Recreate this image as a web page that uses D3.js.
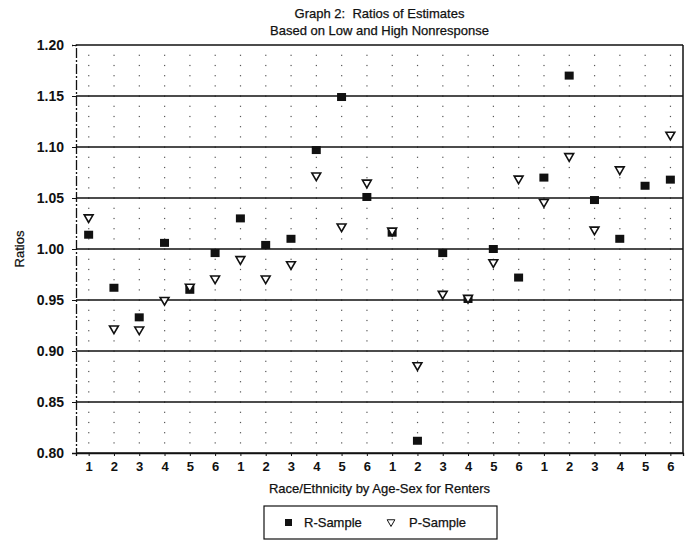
<!DOCTYPE html>
<html>
<head>
<meta charset="utf-8">
<script src="https://cdn.jsdelivr.net/npm/d3@7"></script>
<style>
  body { margin: 0; background: #fff; }
  text { font-family: "Liberation Sans", Arial, sans-serif; fill: #111; white-space: pre; }
</style>
</head>
<body>
<div id="chart"></div>
<script>
// categories: age-sex groups 1-6 within 4 race/ethnicity groups
var categories = d3.range(24).map(function(i) { return "c" + i; })
var catLabels = ["1","2","3","4","5","6","1","2","3","4","5","6","1","2","3","4","5","6","1","2","3","4","5","6"]

var rSample = [1.014, 0.962, 0.933, 1.006, 0.960, 0.996, 1.030, 1.004, 1.010, 1.097, 1.149, 1.051,
               1.016, 0.812, 0.996, 0.951, 1.000, 0.972, 1.070, 1.170, 1.048, 1.010, 1.062, 1.068]
// no visible P-Sample marker at the 5th group-4 category
var pSample = [1.030, 0.921, 0.920, 0.949, 0.962, 0.970, 0.989, 0.970, 0.984, 1.071, 1.021, 1.064,
               1.017, 0.885, 0.955, 0.951, 0.986, 1.068, 1.045, 1.090, 1.018, 1.077, null, 1.111]

var yTicks = [0.80, 0.85, 0.90, 0.95, 1.00, 1.05, 1.10, 1.15, 1.20]

var width = 688,
    height = 543,
    margin = {top: 45, right: 5, bottom: 90, left: 76}

var svg = d3.select("#chart")
  .append("svg")
    .attr("width", width)
    .attr("height", height)

var x = d3.scalePoint()
    .domain(categories)
    .range([margin.left, width - margin.right])
    .padding(0.5)

var y = d3.scaleLinear()
    .domain([0.80, 1.20])
    .range([height - margin.bottom, margin.top])

// dot grid: one dot per category per 0.01
var gridVals = d3.range(81, 120).map(function(v) { return v / 100; })
var dots = []
categories.forEach(function(c) {
  gridVals.forEach(function(v) { dots.push({c: c, v: v}) })
})
svg.append("g")
  .selectAll("rect")
  .data(dots)
  .enter()
  .append("rect")
    .attr("x", function(d) { return x(d.c) - 0.5 })
    .attr("y", function(d) { return y(d.v) - 0.5 })
    .attr("width", 1.2)
    .attr("height", 1.2)
    .attr("fill", "#555")

// solid horizontal lines every 0.05
svg.append("g")
  .selectAll("line")
  .data(yTicks)
  .enter()
  .append("line")
    .attr("x1", margin.left)
    .attr("x2", width - margin.right)
    .attr("y1", function(d) { return y(d) })
    .attr("y2", function(d) { return y(d) })
    .attr("stroke", "#111")
    .attr("stroke-width", 1.3)

// frame
svg.append("line")
    .attr("x1", width - margin.right).attr("x2", width - margin.right)
    .attr("y1", y(1.20)).attr("y2", y(0.80))
    .attr("stroke", "#111").attr("stroke-width", 1.5)

// axes
var yAxis = d3.axisLeft(y)
    .tickValues(yTicks)
    .tickFormat(d3.format(".2f"))
    .tickSize(4)
    .tickPadding(8)
var gy = svg.append("g")
    .attr("transform", "translate(" + margin.left + ",0)")
    .call(yAxis)
gy.select(".domain").attr("stroke", "#111").attr("stroke-width", 1.3).attr("stroke-dasharray", "10,2,2,2")
gy.selectAll(".tick line").attr("stroke", "#111")
gy.selectAll("text")
    .style("font-size", "14px")
    .style("font-weight", "bold")
    .style("font-family", "'Liberation Sans', Arial, sans-serif")

var xAxis = d3.axisBottom(x)
    .tickFormat(function(d, i) { return catLabels[i] })
    .tickSize(3)
    .tickPadding(6)
var gx = svg.append("g")
    .attr("transform", "translate(0," + y(0.80) + ")")
    .call(xAxis)
gx.select(".domain").attr("stroke", "#111").attr("stroke-width", 1.3)
gx.selectAll(".tick line").attr("stroke", "#111")
gx.selectAll("text")
    .style("font-size", "13px")
    .style("font-weight", "bold")
    .style("font-family", "'Liberation Sans', Arial, sans-serif")

// R-Sample: filled squares
svg.append("g")
  .selectAll("rect")
  .data(rSample)
  .enter()
  .append("rect")
    .attr("x", function(d, i) { return x(categories[i]) - 4.5 })
    .attr("y", function(d) { return y(d) - 4 })
    .attr("width", 9)
    .attr("height", 8)
    .attr("fill", "#111")

// P-Sample: open down triangles, drawn over the squares
var tri = d3.symbol().type(d3.symbolTriangle).size(34)
var pts = pSample.map(function(v, i) { return {c: categories[i], v: v} })
  .filter(function(d) { return d.v != null })
svg.append("g")
  .selectAll("path")
  .data(pts)
  .enter()
  .append("path")
    .attr("d", tri)
    .attr("transform", function(d) { return "translate(" + x(d.c) + "," + (y(d.v) - 1) + ") rotate(180)" })
    .attr("fill", "#fff")
    .attr("stroke", "#111")
    .attr("stroke-width", 1.6)

// titles
var cx = (margin.left + width - margin.right) / 2
svg.append("text")
    .attr("x", cx).attr("y", 18)
    .attr("text-anchor", "middle")
    .style("font-size", "13px")
    .style("stroke", "#111").style("stroke-width", 0.25)
    .text("Graph 2:  Ratios of Estimates")
svg.append("text")
    .attr("x", cx).attr("y", 35)
    .attr("text-anchor", "middle")
    .style("font-size", "13px")
    .style("stroke", "#111").style("stroke-width", 0.25)
    .text("Based on Low and High Nonresponse")

svg.append("text")
    .attr("transform", "translate(24," + y(1.00) + ") rotate(-90)")
    .attr("text-anchor", "middle")
    .style("font-size", "13px")
    .style("stroke", "#111").style("stroke-width", 0.25)
    .text("Ratios")

svg.append("text")
    .attr("x", cx).attr("y", 493)
    .attr("text-anchor", "middle")
    .style("font-size", "13px")
    .style("stroke", "#111").style("stroke-width", 0.25)
    .text("Race/Ethnicity by Age-Sex for Renters")

// legend
var lg = svg.append("g").attr("transform", "translate(264,506)")
lg.append("rect")
    .attr("width", 233).attr("height", 33)
    .attr("fill", "none").attr("stroke", "#111").attr("stroke-width", 1.2)
lg.append("rect")
    .attr("x", 21).attr("y", 13).attr("width", 7).attr("height", 7)
    .attr("fill", "#111")
lg.append("text")
    .attr("x", 40).attr("y", 21)
    .style("font-size", "13px")
    .style("stroke", "#111").style("stroke-width", 0.25)
    .text("R-Sample")
lg.append("path")
    .attr("d", d3.symbol().type(d3.symbolTriangle).size(26))
    .attr("transform", "translate(127,16) rotate(180)")
    .attr("fill", "#fff").attr("stroke", "#111").attr("stroke-width", 1)
lg.append("text")
    .attr("x", 145).attr("y", 21)
    .style("font-size", "13px")
    .style("stroke", "#111").style("stroke-width", 0.25)
    .text("P-Sample")
</script>
</body>
</html>
